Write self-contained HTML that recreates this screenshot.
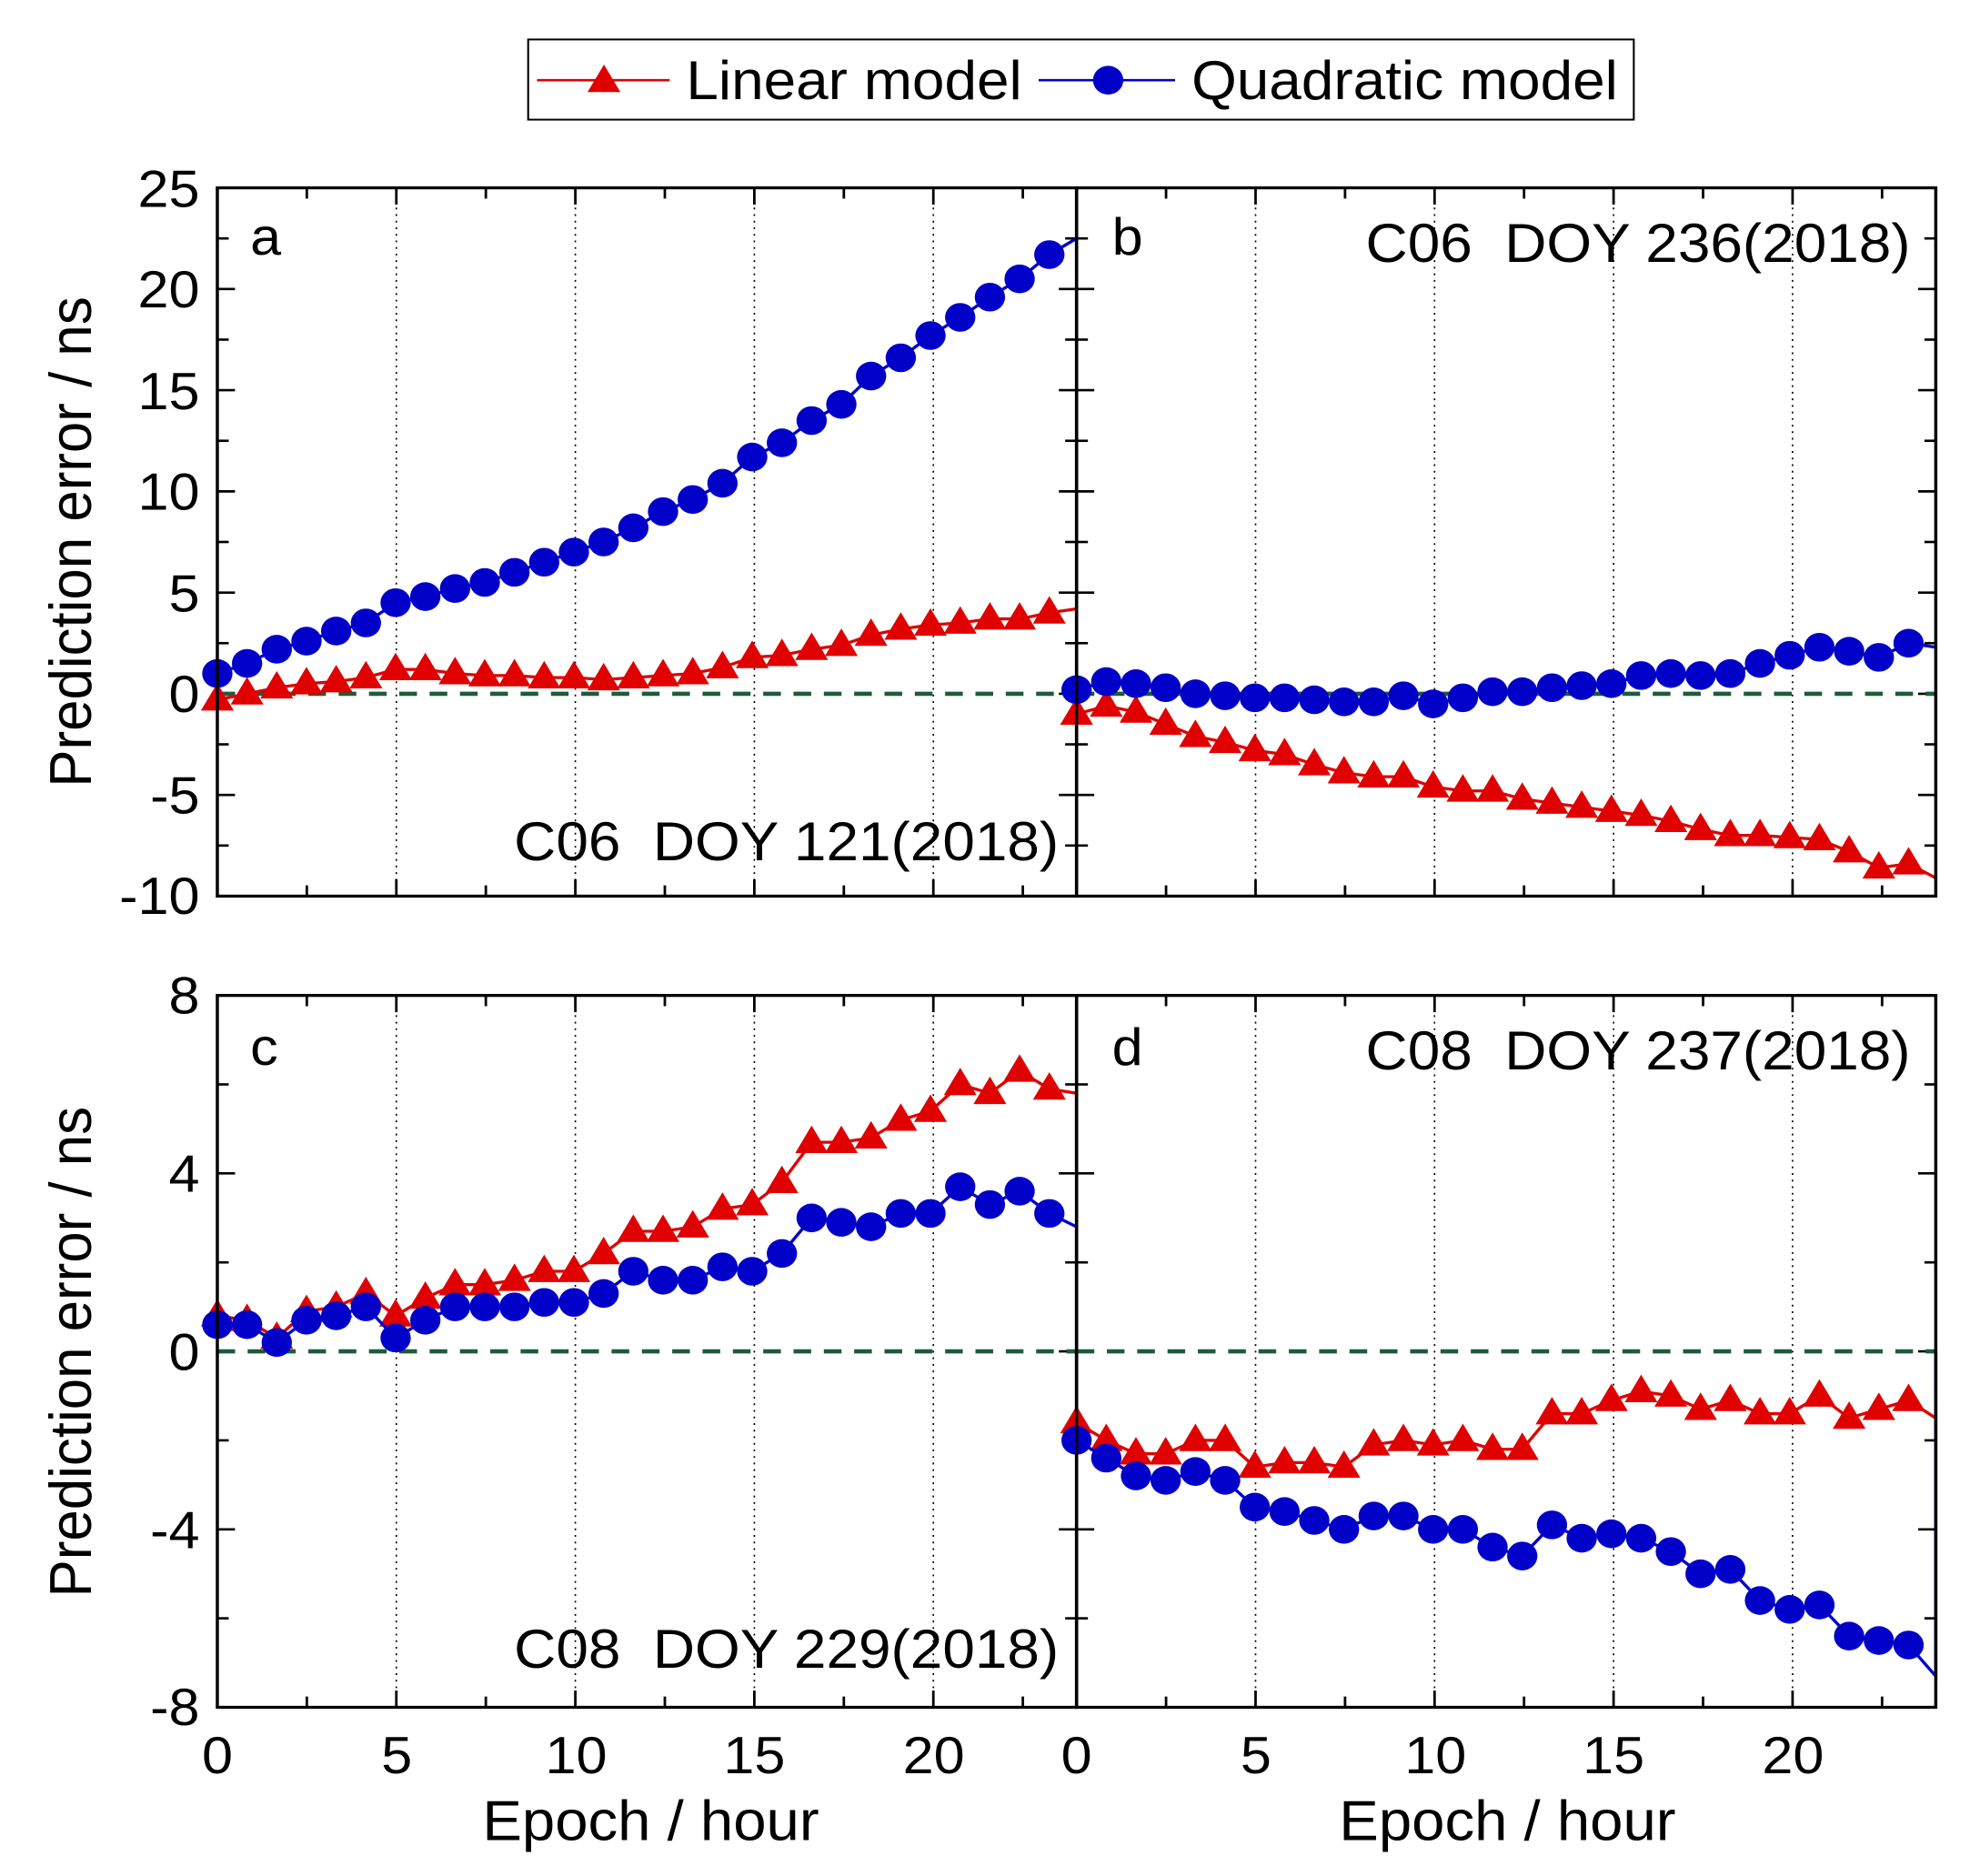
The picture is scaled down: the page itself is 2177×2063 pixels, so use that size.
<!DOCTYPE html>
<html><head><meta charset="utf-8"><style>
html,body{margin:0;padding:0;background:#fff}
svg{display:block}
text{font-family:"Liberation Sans",Arial,sans-serif;fill:#000}
</style></head><body>
<svg id="s" width="2177" height="2063" viewBox="0 0 1567 1568" preserveAspectRatio="none" xmlns="http://www.w3.org/2000/svg">
<rect x="0" y="0" width="1567" height="1568" fill="#fff"/>
<!-- legend -->
<rect x="418" y="33" width="875" height="67" fill="#fff" stroke="#000" stroke-width="1.5"/>
<line x1="425" y1="67" x2="530" y2="67" stroke="#e00000" stroke-width="2"/>
<polygon points="478,54 465,77 491,77" fill="#e00000"/>
<text x="543" y="83" font-size="46">Linear model</text>
<line x1="822" y1="67" x2="930" y2="67" stroke="#0000c8" stroke-width="2"/>
<circle cx="877" cy="67" r="12" fill="#0000c8"/>
<text x="943" y="83" font-size="46">Quadratic model</text>
<g id="plots"></g>
<g font-size="44" text-anchor="end">
<text x="158" y="173">25</text><text x="158" y="257">20</text><text x="158" y="342">15</text><text x="158" y="426">10</text>
<text x="158" y="511">5</text><text x="158" y="595">0</text><text x="158" y="680">-5</text><text x="158" y="764">-10</text>
<text x="158" y="847">8</text><text x="158" y="996">4</text><text x="158" y="1145">0</text><text x="158" y="1294">-4</text><text x="158" y="1442">-8</text>
</g>
<g font-size="44" text-anchor="middle">
<text x="172" y="1482">0</text><text x="314" y="1482">5</text><text x="456" y="1482">10</text><text x="597" y="1482">15</text><text x="739" y="1482">20</text>
<text x="852" y="1482">0</text><text x="994" y="1482">5</text><text x="1136" y="1482">10</text><text x="1277" y="1482">15</text><text x="1419" y="1482">20</text>
</g>
<g font-size="47" text-anchor="middle">
<text x="515" y="1538">Epoch / hour</text><text x="1193" y="1538">Epoch / hour</text>
<text transform="translate(72,453) rotate(-90)">Prediction error / ns</text>
<text transform="translate(72,1130) rotate(-90)">Prediction error / ns</text>
</g>
<g font-size="44">
<text x="198" y="213">a</text><text x="880" y="213">b</text><text x="198" y="890">c</text><text x="880" y="890">d</text>
</g>
<g font-size="46" text-anchor="end">
<text x="1512" y="219">C06&#160;&#160;DOY 236(2018)</text>
<text x="838" y="719">C06&#160;&#160;DOY 121(2018)</text>
<text x="1512" y="894">C08&#160;&#160;DOY 237(2018)</text>
<text x="838" y="1394">C08&#160;&#160;DOY 229(2018)</text>
</g>
</svg>
<script>
var NS="http://www.w3.org/2000/svg",G=document.getElementById("plots");
function el(t,a){var e=document.createElementNS(NS,t);for(var k in a)e.setAttribute(k,a[k]);G.appendChild(e);return e;}
var RED="#e00000",BLUE="#0000c8";
var panels=[
{x0:172,top:157,bot:749,ymax:25,ymin:-10,step:5,minor:2.5,
 q:[1.0,1.5,2.2,2.6,3.1,3.5,4.5,4.8,5.2,5.5,6.0,6.5,7.0,7.5,8.2,9.0,9.6,10.4,11.7,12.4,13.5,14.3,15.7,16.6,17.7,18.6,19.6,20.5,21.7],qe:22.5,
 l:[-0.3,0,0.3,0.5,0.6,0.8,1.2,1.2,1.0,0.9,0.9,0.8,0.8,0.7,0.8,0.9,1.0,1.3,1.8,1.9,2.2,2.4,2.9,3.2,3.4,3.5,3.7,3.7,4.0],le:4.2},
{x0:852,top:157,bot:749,ymax:25,ymin:-10,step:5,minor:2.5,
 q:[0.2,0.6,0.5,0.3,0,-0.1,-0.2,-0.2,-0.3,-0.4,-0.4,-0.1,-0.5,-0.2,0.1,0.1,0.3,0.4,0.5,0.9,1.0,0.9,1.0,1.5,1.9,2.3,2.1,1.8,2.5],qe:2.3,
 l:[-1.0,-0.6,-0.9,-1.5,-2.1,-2.4,-2.8,-3.0,-3.5,-3.9,-4.1,-4.1,-4.6,-4.8,-4.8,-5.2,-5.4,-5.6,-5.8,-6.0,-6.3,-6.7,-7.0,-7.0,-7.1,-7.2,-7.8,-8.6,-8.4],le:-9.1},
{x0:172,top:832,bot:1427,ymax:8,ymin:-8,step:4,minor:2,
 q:[0.6,0.6,0.2,0.7,0.8,1.0,0.3,0.7,1.0,1.0,1.0,1.1,1.1,1.3,1.8,1.6,1.6,1.9,1.8,2.2,3.0,2.9,2.8,3.1,3.1,3.7,3.3,3.6,3.1],qe:2.8,qv:-2.0,
 l:[0.8,0.7,0.3,0.9,1.0,1.3,0.8,1.2,1.5,1.5,1.6,1.8,1.8,2.2,2.7,2.7,2.8,3.2,3.3,3.8,4.7,4.7,4.8,5.2,5.4,6.0,5.8,6.3,5.9],le:5.8,lv:4.0},
{x0:852,top:832,bot:1427,ymax:8,ymin:-8,step:4,minor:2,
 q:[-2.0,-2.4,-2.8,-2.9,-2.7,-2.9,-3.5,-3.6,-3.8,-4.0,-3.7,-3.7,-4.0,-4.0,-4.4,-4.6,-3.9,-4.2,-4.1,-4.2,-4.5,-5.0,-4.9,-5.6,-5.8,-5.7,-6.4,-6.5,-6.6],qe:-7.3,qv:0,
 l:[-1.6,-2.0,-2.3,-2.3,-2.0,-2.0,-2.6,-2.5,-2.5,-2.6,-2.1,-2.0,-2.1,-2.0,-2.2,-2.2,-1.4,-1.4,-1.1,-0.9,-1.0,-1.3,-1.1,-1.4,-1.4,-1.0,-1.5,-1.3,-1.1],le:-1.5}
];
var W=680,XS=W/24;
panels.forEach(function(p){
 var ys=(p.bot-p.top)/(p.ymax-p.ymin);
 function Y(v){return p.top+(p.ymax-v)*ys;}
 function X(h){return p.x0+h*XS;}
 [5,10,15,20].forEach(function(h){el("line",{x1:X(h),y1:p.top,x2:X(h),y2:p.bot,stroke:"#000","stroke-width":1.2,"stroke-dasharray":"1.5,4"});});
 for(var h=0;h<=24.01;h+=2.5){var L=(h%5==0)?14:9;
  el("line",{x1:X(h),y1:p.bot,x2:X(h),y2:p.bot-L,stroke:"#000","stroke-width":2});
  el("line",{x1:X(h),y1:p.top,x2:X(h),y2:p.top+L,stroke:"#000","stroke-width":2});}
 for(var v=p.ymin;v<=p.ymax+0.01;v+=p.minor){var L=(Math.abs(v/p.step-Math.round(v/p.step))<0.01)?14:9;
  el("line",{x1:p.x0,y1:Y(v),x2:p.x0+L,y2:Y(v),stroke:"#000","stroke-width":2});
  el("line",{x1:p.x0+W,y1:Y(v),x2:p.x0+W-L,y2:Y(v),stroke:"#000","stroke-width":2});}
 el("line",{x1:p.x0,y1:Y(0),x2:p.x0+W,y2:Y(0),stroke:"#1e5a3c","stroke-width":3.5,"stroke-dasharray":"14,10"});
 function series(arr,end,vert,col,tri){
  var pts=[];for(var i=0;i<arr.length;i++){pts.push(X(i*0.83)+","+Y(arr[i]));}
  pts.push(X(24)+","+Y(end));if(vert!==undefined)pts.push(X(24)+","+Y(vert));
  el("polyline",{points:pts.join(" "),fill:"none",stroke:col,"stroke-width":2.5});
  for(var i=0;i<arr.length;i++){var x=X(i*0.83),y=Y(arr[i]);
   if(tri)el("polygon",{points:x+","+(y-14)+" "+(x-13)+","+(y+9)+" "+(x+13)+","+(y+9),fill:col});
   else el("circle",{cx:x,cy:y,r:12,fill:col});}
 }
 series(p.l,p.le,p.lv,RED,true);
 series(p.q,p.qe,p.qv,BLUE,false);
 el("rect",{x:p.x0,y:p.top,width:W,height:p.bot-p.top,fill:"none",stroke:"#000","stroke-width":2.5});
});
</script>
</body></html>
